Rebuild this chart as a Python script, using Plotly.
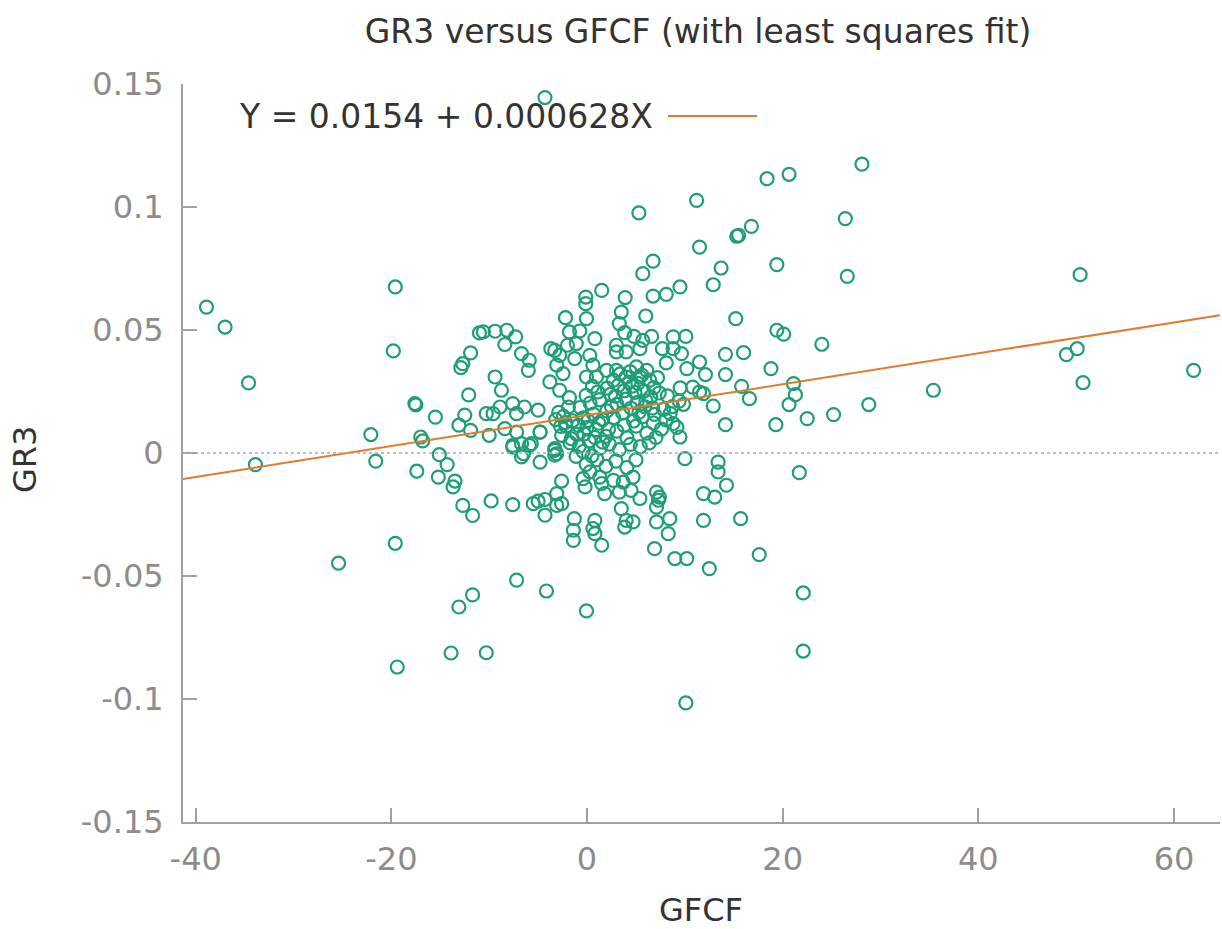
import numpy as np
import plotly.graph_objects as go

# Regression coefficients of GR3 on GFCF
intercept = 0.0154
slope = 0.000628

# Observations (GFCF, GR3), grouped by region of the scatter
left_gfcf = [-38.9, -37.0, -34.6, -33.9, -25.4, -22.1, -21.6, -19.6, -19.8, -19.6, -19.4,
             -17.6, -17.5, -15.5, -17.0, -16.8, -17.4, -15.1, -14.3, -15.2, -13.5, -13.7,
             -12.7, -11.7, -11.7, -13.1, -13.9, -10.3, -11.0, -11.9, -12.7, -12.9, -12.1,
             -12.5, -13.1, -11.9, -9.8]
left_gr3 = [0.0593, 0.0512, 0.0285, -0.0047, -0.0448, 0.0075, -0.0033, 0.0675, 0.0415, -0.0367, -0.087,
            0.0201, 0.0196, 0.0146, 0.0065, 0.0049, -0.0074, -0.0007, -0.0047, -0.0098, -0.0114, -0.0138,
            -0.0213, -0.0254, -0.0577, -0.0626, -0.0813, -0.0812, 0.0488, 0.0407, 0.0363, 0.0347, 0.0236,
            0.0154, 0.0113, 0.0092, -0.0195]

upper_gfcf = [-10.6, -9.4, -8.2, -7.3, -8.4, -9.4, -8.75, -8.9, -7.6, -9.6, -10.3, -7.2, -6.4,
              -6.7, -5.9, -6.0, -5.0, -4.8, -4.8, -3.7, -3.3, -2.8, -2.2, -2.0, -1.1, -1.26,
              -1.8, -0.75, -0.13, -0.13, -0.06, 1.5, -3.1, -2.45, -3.8, -2.8, -1.8, 0.28, 0.8,
              0.6, -0.06, 0.96, 2.0, 3.0, 3.0, 3.3, 3.5, 3.9, 3.85, 4.8, 4.0, 5.4, 5.7, 6.0,
              6.6, 6.75, 8.1, 9.5, 7.7, 8.8, 9.65, 8.8, 10.1, 10.2, 8.1, 3.0, 2.7, 4.0, 5.05,
              6.1, 5.4, 6.4, 10.8, 8.8, 9.5]
upper_gr3 = [0.0492, 0.0495, 0.0499, 0.0472, 0.0441, 0.0309, 0.0255, 0.0187, 0.0201, 0.016, 0.016, 0.016, 0.0187,
             0.0404, 0.0377, 0.0336, 0.0174, 0.0085, -0.0037, 0.0424, 0.0417, 0.0397, 0.055, 0.0438, 0.0445, 0.0384,
             0.0492, 0.0496, 0.0634, 0.0607, 0.0546, 0.0661, 0.0357, 0.0323, 0.0289, 0.0255, 0.0225, 0.0397, 0.0465,
             0.0357, 0.0309, 0.0309, 0.0336, 0.0438, 0.0411, 0.0526, 0.0573, 0.0632, 0.0489, 0.0474, 0.0411, 0.0424, 0.0458, 0.0557,
             0.0474, 0.0638, 0.0645, 0.0675, 0.0424, 0.0424, 0.0404, 0.0472, 0.0474, 0.0343, 0.0366, 0.0336, 0.0296, 0.0309, 0.035,
             0.0336, 0.0309, 0.0296, 0.0268, 0.012, 0.0065]

core_gfcf = [0.55, 2.05, 4.62, 5.81, 6.83, 7.38, 8.21, 9.52, 9.41, -0.71, 0.31, 1.27, 2.03, 3.06,
             3.97, 5.11, 6.02, 6.7, 7.82, 8.74, 9.86, -2.41, -1.47, -0.38, 0.66, 1.59, 2.71, 3.64,
             4.76, 5.68, 6.79, 8.06, 9.19, -2.15, -1.04, -0.02, 0.92, 1.94, 3.04, 4.08, 5.01, 6.12,
             7.04, -1.73, -0.79, 0.22, 1.35, 2.28, 3.31, 4.42, 5.44, 6.36, -1.12, -0.1, 1.01, 1.93,
             2.95, 4.07, 5.0, -2.9, -2.2, -1.6, -2.6, -0.4, 0.5, -3.2, -2.7,
             3.4, 4.3, 5.6, 4.9, 3.8, 2.4, 6.5, 7.2, 5.2, 4.4, 3.2, 2.9, 1.2, 0.1, -0.9,
             0.8, 2.2, -0.3, 1.6, 3.8, 5.3, 7.6, 6.9, 8.5, -1.9, -0.1, 1.1, 2.5, 4.5, 5.9]
core_gr3 = [0.0271, 0.0264, 0.0272, 0.0251, 0.0266, 0.0244, 0.0232, 0.0265, 0.0211, 0.0185, 0.0203, 0.0217, 0.0171, 0.0198,
            0.0219, 0.0205, 0.0212, 0.0183, 0.0177, 0.0189, 0.0198, 0.0149, 0.0131, 0.0143, 0.0158, 0.0136, 0.0144, 0.0163,
            0.013, 0.0148, 0.0122, 0.0135, 0.0104, 0.0109, 0.0076, 0.0103, 0.0095, 0.0068, 0.0089, 0.0062, 0.0109, 0.0081,
            0.0063, 0.0041, 0.0027, 0.0049, 0.0021, 0.0036, 0.0014, 0.0035, 0.0026, 0.0041, -0.0014, -0.0046, -0.0027, -0.0054,
            -0.0033, -0.0059, -0.0028, 0.0165, 0.0124, 0.0058, 0.0072, 0.0006, -0.0012, 0.0136, 0.0108,
            0.0322, 0.0288, 0.0317, 0.0246, 0.0253, 0.0238, 0.0228, 0.0306, 0.0283, 0.0331, 0.0275, 0.0231, 0.0121, 0.0132, 0.0112,
            0.0063, 0.0097, 0.0078, 0.0044, 0.0112, 0.0165, 0.0097, 0.0157, 0.0161, 0.0187, 0.0234, 0.0248, 0.0189, 0.0182, 0.0188]

lower_gfcf = [-7.6, -5.5, -5.0, -4.3, -4.3, -3.1, -3.1, -2.6, -2.6, -1.3, -1.4, -1.4, 0.8, 0.6,
              0.8, 1.5, -0.4, -0.2, 0.3, 1.3, 1.8, 1.5, 2.7, 3.3, 3.7, 4.5, 4.7, 5.4, 3.5, 4.0,
              3.85, 4.7, 7.1, 7.3, 7.1, 7.4, 7.1, 8.45, 8.3, 6.9, 8.97, 10.2, 12.5, 11.9, 13.05,
              11.9, 10.0, 13.4, 13.4, 14.25, -7.2, -4.15, -0.06, -7.6, -6.7, -5.9, -3.3, -3.3,
              -10.0, -8.4, -7.2, -6.7, -7.6, -6.5, -5.7, -3.3, -3.1, -4.8]
lower_gr3 = [-0.021, -0.0206, -0.0196, -0.0189, -0.0253, -0.0165, -0.0213, -0.0206, -0.0114, -0.0267, -0.0314, -0.0355, -0.0274, -0.0307,
             -0.0328, -0.0375, -0.0104, -0.0138, -0.0077, -0.0098, -0.0165, -0.0124, -0.0111, -0.0159, -0.0118, -0.0152, -0.0098, -0.0185, -0.0226, -0.0274,
             -0.0301, -0.028, -0.0159, -0.0192, -0.022, -0.0179, -0.028, -0.0267, -0.0328, -0.0389, -0.0429, -0.0429, -0.047, -0.0165, -0.0179,
             -0.0274, -0.0023, -0.0037, -0.0077, -0.0131, -0.0517, -0.0561, -0.0642, 0.0031, -0.0016, 0.0031, 0.0018, -0.0009,
             0.0072, 0.0099, 0.0085, 0.0038, 0.0024, -0.0003, 0.0038, 0.0011, -0.0003, 0.0085]

right_gfcf = [28.1, 18.4, 20.65, 26.4, 26.6, 16.8, 15.5, 15.3, 11.2, 11.5, 13.7, 12.9, 19.4, 15.2,
              19.4, 20.1, 24.0, 14.15, 16.0, 11.5, 12.1, 14.15, 18.8, 15.8, 21.1, 21.3, 11.5, 11.9,
              16.6, 12.9, 20.65, 35.4, 28.8, 25.2, 22.5, 19.3, 14.15, 15.7, 17.6, 21.7, 22.1, 22.1,
              10.1, 50.4, 49.0, 50.1, 50.7, 62.0, 5.3, 6.75, 5.7, -4.3]
right_gr3 = [0.1174, 0.1115, 0.1133, 0.0953, 0.0718, 0.0921, 0.0885, 0.0881, 0.1027, 0.0837, 0.0752, 0.0684, 0.0766, 0.0546,
             0.0499, 0.0483, 0.0442, 0.0401, 0.0408, 0.037, 0.0319, 0.0319, 0.0343, 0.0271, 0.0282, 0.0237, 0.0248, 0.0241,
             0.0221, 0.0191, 0.0197, 0.0255, 0.0197, 0.0156, 0.014, 0.0115, 0.0115, -0.0267, -0.0413, -0.008, -0.0569, -0.0805,
             -0.1016, 0.0725, 0.04, 0.0424, 0.0286, 0.0336, 0.0976, 0.078, 0.0729, 0.1445]

gfcf = left_gfcf + upper_gfcf + core_gfcf + lower_gfcf + right_gfcf
gr3 = left_gr3 + upper_gr3 + core_gr3 + lower_gr3 + right_gr3

# Axis settings
x_range = [-41.3, 64.7]
y_range = [-0.15, 0.15]
x_ticks = [-40, -20, 0, 20, 40, 60]
x_ticktext = ["-40", "-20", "0", "20", "40", "60"]
y_ticks = [-0.15, -0.1, -0.05, 0, 0.05, 0.1, 0.15]
y_ticktext = ["-0.15", "-0.1", "-0.05", "0", "0.05", "0.1", "0.15"]

FONT = "DejaVu Sans"
GREEN = "#1f9e76"
ORANGE = "#e27a30"
AXIS = "#a0a0a0"
TICKTXT = "#8c8c8c"
TEXT = "#333333"

fit_x = np.array(x_range)
fit_y = intercept + slope * fit_x

fig = go.Figure()
fig.add_trace(go.Scatter(
    x=gfcf, y=gr3, mode="markers",
    marker=dict(symbol="circle-open", size=13, color=GREEN, line=dict(width=2.2, color=GREEN)),
    showlegend=False, hoverinfo="x+y",
))
fig.add_trace(go.Scatter(
    x=fit_x, y=fit_y, mode="lines",
    line=dict(color=ORANGE, width=2),
    showlegend=False,
))

W, H = 1222, 929
ml, mr, mt, mb = 183, 2, 84, 107
pw, ph = W - ml - mr, H - mt - mb

def px_x(px):
    return (px - ml) / pw

def px_y(py):
    return (H - mb - py) / ph

axis_common = dict(
    showline=True, linecolor=AXIS, linewidth=2,
    ticks="inside", ticklen=14, tickwidth=1.5, tickcolor=AXIS,
    showgrid=False, zeroline=False, mirror=False,
    tickfont=dict(family=FONT, size=32, color=TICKTXT),
)

fig.update_layout(
    width=W, height=H,
    margin=dict(l=ml, r=mr, t=mt, b=mb),
    paper_bgcolor="white", plot_bgcolor="white",
    xaxis=dict(range=x_range, tickvals=x_ticks, ticktext=x_ticktext, ticklabelstandoff=8, **axis_common),
    yaxis=dict(range=y_range, tickvals=y_ticks, ticktext=y_ticktext, ticklabelstandoff=11, **axis_common),
    title=dict(text="GR3 versus GFCF (with least squares fit)",
               font=dict(family=FONT, size=33, color=TEXT),
               x=698 / W, xanchor="center",
               y=1 - 31 / H, yanchor="middle"),
    shapes=[
        dict(type="line", xref="paper", yref="y", x0=0, x1=1, y0=0, y1=0,
             line=dict(color="#aaaaaa", width=1.5, dash="dot")),
        dict(type="line", xref="paper", yref="paper", x0=px_x(668), x1=px_x(757),
             y0=px_y(116), y1=px_y(116), line=dict(color=ORANGE, width=2)),
    ],
    annotations=[
        dict(text="Y = 0.0154 + 0.000628X", xref="paper", yref="paper",
             x=px_x(655), y=px_y(116), xanchor="right", yanchor="middle", showarrow=False,
             font=dict(family=FONT, size=33, color=TEXT)),
        dict(text="GFCF", xref="paper", yref="paper", x=px_x(701), y=px_y(910),
             xanchor="center", yanchor="middle", showarrow=False,
             font=dict(family=FONT, size=32, color=TEXT)),
        dict(text="GR3", xref="paper", yref="paper", x=px_x(25), y=px_y(460),
             xanchor="center", yanchor="middle", textangle=-90, showarrow=False,
             font=dict(family=FONT, size=32, color=TEXT)),
    ],
)

fig.write_html("out.html")
